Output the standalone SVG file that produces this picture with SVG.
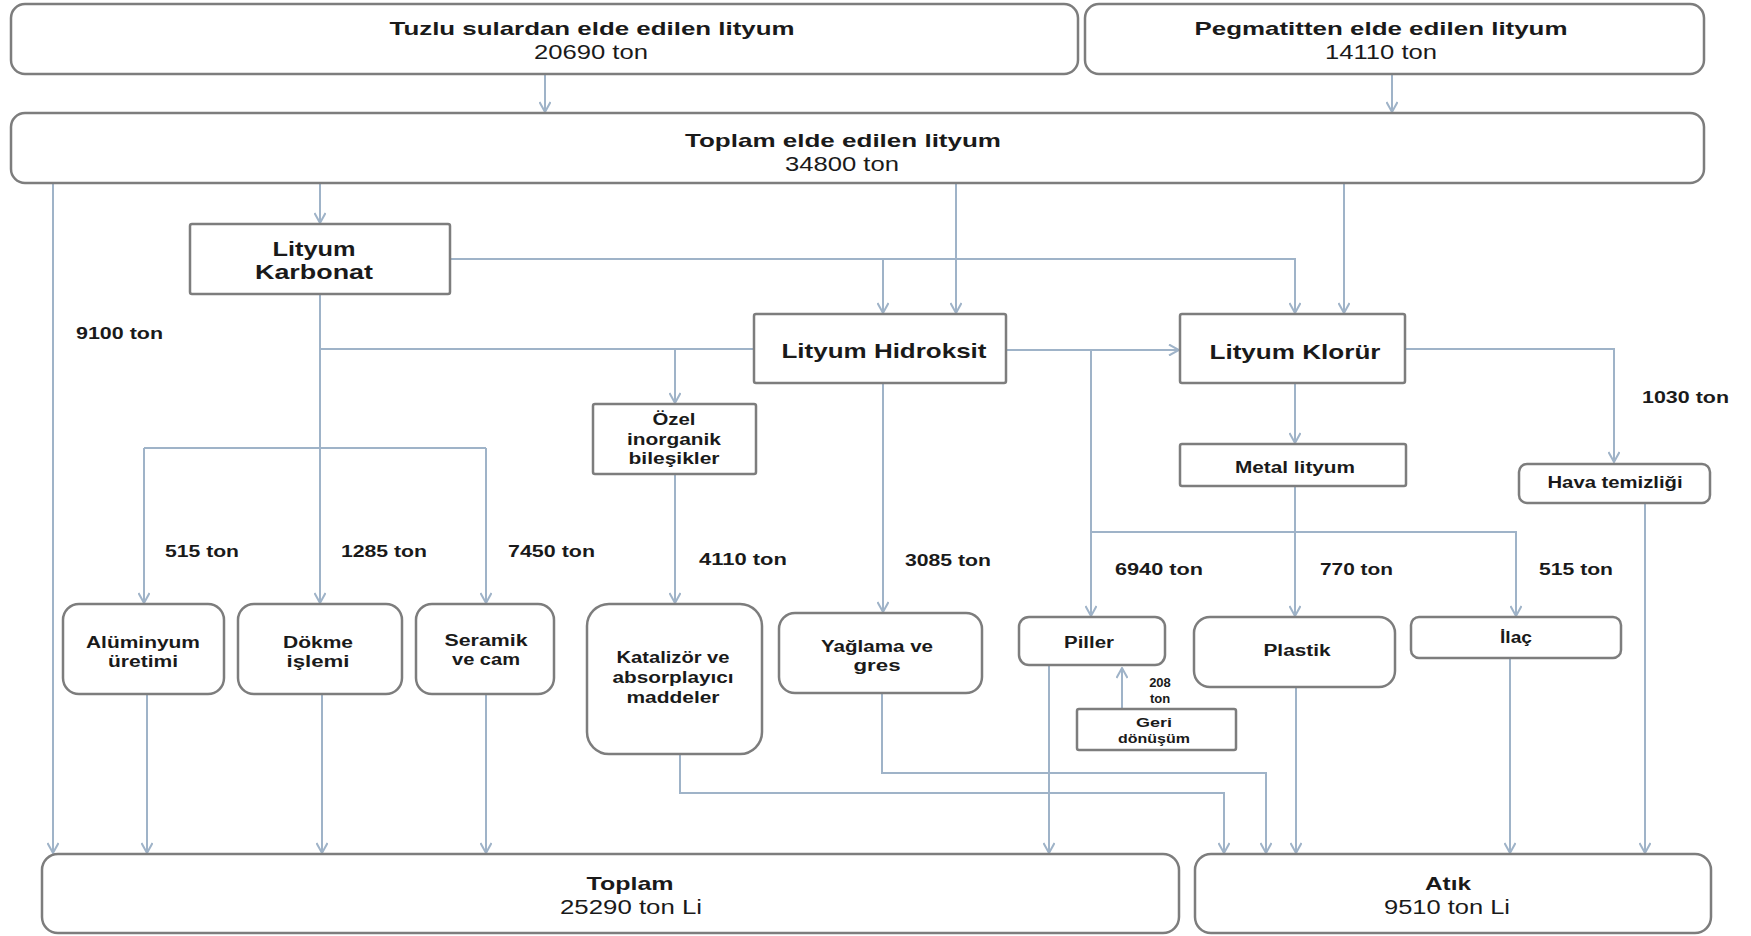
<svg xmlns="http://www.w3.org/2000/svg" width="1751" height="936" viewBox="0 0 1751 936">
<defs>
<marker id="arr" viewBox="0 0 12 12" markerWidth="12" markerHeight="12" refX="11" refY="6" orient="auto" markerUnits="userSpaceOnUse">
<path d="M1,0.5 L11,6 L1,11.5" fill="none" stroke="#9fb3c8" stroke-width="2"/>
</marker>
</defs>
<style>
.box{fill:#fff;stroke:#7d7d7d;stroke-width:2.5}
.ln{fill:none;stroke:#9fb3c8;stroke-width:2}
.a{marker-end:url(#arr)}
text{font-family:"Liberation Sans",Arial,sans-serif;fill:#1a1a1a;text-anchor:middle}
.t{font-weight:bold;font-size:19px}
.n{font-size:20px}
.h{font-weight:bold;font-size:21px}
.m{font-weight:bold;font-size:16px}
.l{font-weight:bold;font-size:17px;text-anchor:start}
.s{font-weight:bold;font-size:13px}
</style>
<rect width="1751" height="936" fill="#fff"/>
<g id="connectors">
<path class="ln a" d="M545 74V112"/>
<path class="ln a" d="M1392 74V112"/>
<path class="ln a" d="M320 183V223"/>
<path class="ln a" d="M53 183V853"/>
<path class="ln a" d="M956 183V313"/>
<path class="ln a" d="M1344 183V313"/>
<path class="ln a" d="M450 259H1295V313"/>
<path class="ln a" d="M883 259V313"/>
<path class="ln a" d="M320 294V603"/>
<path class="ln" d="M320 349H754"/>
<path class="ln a" d="M675 349V403"/>
<path class="ln" d="M144 448H486"/>
<path class="ln a" d="M144 448V603"/>
<path class="ln a" d="M486 448V603"/>
<path class="ln a" d="M675 474V603"/>
<path class="ln a" d="M883 383V612"/>
<path class="ln a" d="M1006 350H1179"/>
<path class="ln a" d="M1091 350V616"/>
<path class="ln a" d="M1091 532H1516V616"/>
<path class="ln a" d="M1295 383V443"/>
<path class="ln a" d="M1295 486V616"/>
<path class="ln a" d="M1405 349H1614V462"/>
<path class="ln a" d="M1122 709V668"/>
<path class="ln a" d="M147 694V853"/>
<path class="ln a" d="M322 694V853"/>
<path class="ln a" d="M486 694V853"/>
<path class="ln a" d="M1049 665V853"/>
<path class="ln a" d="M680 754V793H1224V853"/>
<path class="ln a" d="M882 693V773H1266V853"/>
<path class="ln a" d="M1296 687V853"/>
<path class="ln a" d="M1510 658V853"/>
<path class="ln a" d="M1645 503V853"/>
</g>
<g id="tuzlu">
<rect class="box" x="11" y="4" width="1067" height="70" rx="14"/>
<text class="t" x="592" y="35" textLength="405" lengthAdjust="spacingAndGlyphs">Tuzlu sulardan elde edilen lityum</text>
<text class="n" x="591" y="59" textLength="114" lengthAdjust="spacingAndGlyphs">20690 ton</text>
</g>
<g id="pegmatit">
<rect class="box" x="1085" y="4" width="619" height="70" rx="14"/>
<text class="t" x="1381" y="35" textLength="373" lengthAdjust="spacingAndGlyphs">Pegmatitten elde edilen lityum</text>
<text class="n" x="1381" y="59" textLength="112" lengthAdjust="spacingAndGlyphs">14110 ton</text>
</g>
<g id="toplam-elde">
<rect class="box" x="11" y="113" width="1693" height="70" rx="14"/>
<text class="t" x="843" y="147" textLength="316" lengthAdjust="spacingAndGlyphs">Toplam elde edilen lityum</text>
<text class="n" x="842" y="171" textLength="114" lengthAdjust="spacingAndGlyphs">34800 ton</text>
</g>
<g id="karbonat">
<rect class="box" x="190" y="224" width="260" height="70" rx="2"/>
<text class="h" x="314" y="256" textLength="83" lengthAdjust="spacingAndGlyphs">Lityum</text>
<text class="h" x="314" y="279" textLength="118" lengthAdjust="spacingAndGlyphs">Karbonat</text>
</g>
<g id="hidroksit">
<rect class="box" x="754" y="314" width="252" height="69" rx="2"/>
<text class="h" x="884" y="358" textLength="205" lengthAdjust="spacingAndGlyphs">Lityum Hidroksit</text>
</g>
<g id="klorur">
<rect class="box" x="1180" y="314" width="225" height="69" rx="2"/>
<text class="h" x="1295" y="359" textLength="171" lengthAdjust="spacingAndGlyphs">Lityum Klorür</text>
</g>
<g id="ozel">
<rect class="box" x="593" y="404" width="163" height="70" rx="2"/>
<text class="m" x="674" y="425" textLength="43" lengthAdjust="spacingAndGlyphs">Özel</text>
<text class="m" x="674" y="445" textLength="94" lengthAdjust="spacingAndGlyphs">inorganik</text>
<text class="m" x="674" y="464" textLength="91" lengthAdjust="spacingAndGlyphs">bileşikler</text>
</g>
<g id="metal">
<rect class="box" x="1180" y="444" width="226" height="42" rx="2"/>
<text class="m" x="1295" y="473" textLength="120" lengthAdjust="spacingAndGlyphs">Metal lityum</text>
</g>
<g id="hava">
<rect class="box" x="1519" y="464" width="191" height="39" rx="8"/>
<text class="m" x="1615" y="488" textLength="135" lengthAdjust="spacingAndGlyphs">Hava temizliği</text>
</g>
<g id="aluminyum">
<rect class="box" x="63" y="604" width="161" height="90" rx="16"/>
<text class="m" x="143" y="648" textLength="114" lengthAdjust="spacingAndGlyphs">Alüminyum</text>
<text class="m" x="143" y="667" textLength="70" lengthAdjust="spacingAndGlyphs">üretimi</text>
</g>
<g id="dokme">
<rect class="box" x="238" y="604" width="164" height="90" rx="16"/>
<text class="m" x="318" y="648" textLength="70" lengthAdjust="spacingAndGlyphs">Dökme</text>
<text class="m" x="318" y="667" textLength="63" lengthAdjust="spacingAndGlyphs">işlemi</text>
</g>
<g id="seramik">
<rect class="box" x="416" y="604" width="138" height="90" rx="16"/>
<text class="m" x="486" y="646" textLength="83" lengthAdjust="spacingAndGlyphs">Seramik</text>
<text class="m" x="486" y="665" textLength="68" lengthAdjust="spacingAndGlyphs">ve cam</text>
</g>
<g id="katalizor">
<rect class="box" x="587" y="604" width="175" height="150" rx="22"/>
<text class="m" x="673" y="663" textLength="113" lengthAdjust="spacingAndGlyphs">Katalizör ve</text>
<text class="m" x="673" y="683" textLength="121" lengthAdjust="spacingAndGlyphs">absorplayıcı</text>
<text class="m" x="673" y="703" textLength="93" lengthAdjust="spacingAndGlyphs">maddeler</text>
</g>
<g id="yaglama">
<rect class="box" x="779" y="613" width="203" height="80" rx="16"/>
<text class="m" x="877" y="652" textLength="112" lengthAdjust="spacingAndGlyphs">Yağlama ve</text>
<text class="m" x="877" y="671" textLength="47" lengthAdjust="spacingAndGlyphs">gres</text>
</g>
<g id="piller">
<rect class="box" x="1019" y="617" width="146" height="48" rx="10"/>
<text class="m" x="1089" y="648" textLength="50" lengthAdjust="spacingAndGlyphs">Piller</text>
</g>
<g id="geri">
<rect class="box" x="1077" y="709" width="159" height="41" rx="2"/>
<text class="s" x="1154" y="727" textLength="36" lengthAdjust="spacingAndGlyphs">Geri</text>
<text class="s" x="1154" y="743" textLength="72" lengthAdjust="spacingAndGlyphs">dönüşüm</text>
</g>
<g id="plastik">
<rect class="box" x="1194" y="617" width="201" height="70" rx="16"/>
<text class="m" x="1297" y="656" textLength="67" lengthAdjust="spacingAndGlyphs">Plastik</text>
</g>
<g id="ilac">
<rect class="box" x="1411" y="617" width="210" height="41" rx="8"/>
<text class="m" x="1516" y="643" textLength="32" lengthAdjust="spacingAndGlyphs">İlaç</text>
</g>
<g id="toplam">
<rect class="box" x="42" y="854" width="1137" height="79" rx="16"/>
<text class="t" x="630" y="890" textLength="87" lengthAdjust="spacingAndGlyphs">Toplam</text>
<text class="n" x="631" y="914" textLength="142" lengthAdjust="spacingAndGlyphs">25290 ton Li</text>
</g>
<g id="atik">
<rect class="box" x="1195" y="854" width="516" height="79" rx="16"/>
<text class="t" x="1448" y="890" textLength="46" lengthAdjust="spacingAndGlyphs">Atık</text>
<text class="n" x="1447" y="914" textLength="126" lengthAdjust="spacingAndGlyphs">9510 ton Li</text>
</g>
<g id="labels">
<text class="l" x="76" y="339" textLength="87" lengthAdjust="spacingAndGlyphs">9100 ton</text>
<text class="l" x="165" y="557" textLength="74" lengthAdjust="spacingAndGlyphs">515 ton</text>
<text class="l" x="341" y="557" textLength="86" lengthAdjust="spacingAndGlyphs">1285 ton</text>
<text class="l" x="508" y="557" textLength="87" lengthAdjust="spacingAndGlyphs">7450 ton</text>
<text class="l" x="699" y="565" textLength="88" lengthAdjust="spacingAndGlyphs">4110 ton</text>
<text class="l" x="905" y="566" textLength="86" lengthAdjust="spacingAndGlyphs">3085 ton</text>
<text class="l" x="1115" y="575" textLength="88" lengthAdjust="spacingAndGlyphs">6940 ton</text>
<text class="l" x="1320" y="575" textLength="73" lengthAdjust="spacingAndGlyphs">770 ton</text>
<text class="l" x="1539" y="575" textLength="74" lengthAdjust="spacingAndGlyphs">515 ton</text>
<text class="l" x="1642" y="403" textLength="87" lengthAdjust="spacingAndGlyphs">1030 ton</text>
<text class="s" x="1160" y="687">208</text>
<text class="s" x="1160" y="703">ton</text>
</g>
</svg>
